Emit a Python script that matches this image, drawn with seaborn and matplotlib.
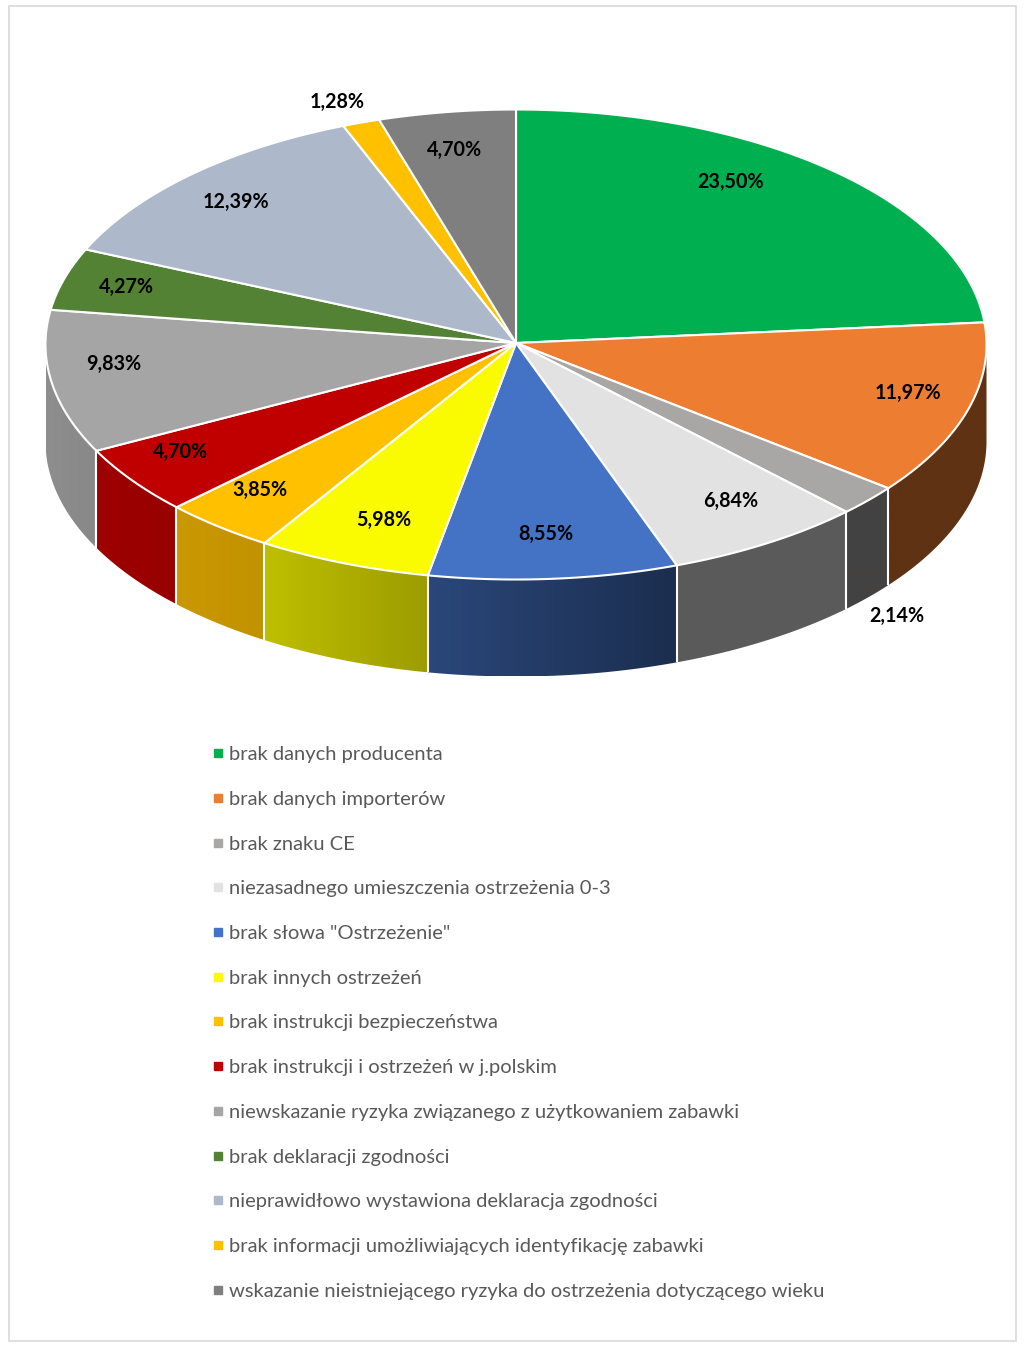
import numpy as np
import matplotlib
matplotlib.use("Agg")
import matplotlib.pyplot as plt
from matplotlib.lines import Line2D
from matplotlib.patches import Rectangle, Polygon
from matplotlib.colors import to_rgb
import seaborn as sns

categories = [
    "brak danych producenta",
    "brak danych importerów",
    "brak znaku CE",
    "niezasadnego umieszczenia ostrzeżenia 0-3",
    'brak słowa "Ostrzeżenie"',
    "brak innych ostrzeżeń",
    "brak instrukcji bezpieczeństwa",
    "brak instrukcji i ostrzeżeń w j.polskim",
    "niewskazanie ryzyka związanego z użytkowaniem zabawki",
    "brak deklaracji zgodności",
    "nieprawidłowo wystawiona deklaracja zgodności",
    "brak informacji umożliwiających identyfikację zabawki",
    "wskazanie nieistniejącego ryzyka do ostrzeżenia dotyczącego wieku",
]
values = [23.50, 11.97, 2.14, 6.84, 8.55, 5.98, 3.85, 4.70, 9.83, 4.27, 12.39, 1.28, 4.70]
colors = ["#00B050", "#ED7D31", "#A9A7A5", "#E2E2E2", "#4472C4", "#FBFB00", "#FFC000",
          "#C00000", "#A5A5A5", "#548235", "#ADB9CA", "#FFC000", "#7F7F7F"]
label_xy = [(731, 182), (908, 393), (897, 616), (731, 501), (546, 534), (384, 520), (260, 490),
            (181, 452), (114, 364), (126, 287), (236, 202), (337, 102), (455, 150)]

sns.set_theme(style="white")
plt.rcParams["font.family"] = ["Lato", "DejaVu Sans"]

cx, cy, rx, ry, depth = 516, 344.5, 470.5, 235, 97
palette = sns.color_palette(colors)

fig = plt.figure(figsize=(10.24, 13.5), dpi=100)
ax = fig.add_axes([0, 0, 1, 1])
ax.axis("off")
ax.add_patch(Rectangle((8.5, 5.5), 1007, 1335, fc="white", ec="#D9D9D9", lw=1.2, zorder=0))


def rim(t):
    return cx + rx * np.sin(t), cy - ry * np.cos(t)


def shade(x):
    return np.interp(x, [46, 100, 265, 430, 678, 1000], [0.86, 0.82, 0.76, 0.62, 0.40, 0.40])


edges = np.concatenate([[0], np.cumsum(values)]) / sum(values) * 2 * np.pi

# side wall (only the front half of the rim is visible), shaded left to right
for i, col in enumerate(palette):
    lo, hi = max(edges[i], np.pi / 2), min(edges[i + 1], 3 * np.pi / 2)
    if hi <= lo:
        continue
    ts = np.linspace(lo, hi, 200)
    xs, ys = rim(ts)
    outline = Polygon(np.c_[np.r_[xs, xs[::-1]], np.r_[ys, ys[::-1] + depth]], closed=True,
                      fc="none", ec="none", transform=ax.transData)
    ax.add_patch(outline)
    x0, x1 = xs.min(), xs.max()
    gx = np.linspace(x0, x1, 256)
    img = np.outer(shade(gx), np.array(to_rgb(col))).reshape(1, 256, 3)
    im = ax.imshow(img, extent=(x0, x1, ys.max() + depth, ys.min()), aspect="auto",
                   interpolation="bilinear", zorder=1)
    im.set_clip_path(outline)

ax.set_xlim(0, 1024)
ax.set_ylim(1350, 0)

# white seams on the wall
for t in edges:
    if np.pi / 2 < t < 3 * np.pi / 2:
        x, y = rim(t)
        ax.plot([x, x], [y, y + depth], color="white", lw=1.5, zorder=2, solid_capstyle="butt")

# top face
for i, col in enumerate(palette):
    ts = np.linspace(edges[i], edges[i + 1], 200)
    xs, ys = rim(ts)
    ax.fill(np.r_[cx, xs], np.r_[cy - 1.5, ys], facecolor=col, edgecolor="white", lw=1.5,
            joinstyle="round", zorder=3)

# value labels
for v, (x, y) in zip(values, label_xy):
    ax.text(x, y, f"{v:.2f}%".replace(".", ","), ha="center", va="center", fontsize=14.2,
            fontweight="bold", color="black", zorder=5)

handles = [Line2D([], [], ls="none", marker="s", ms=5.5, color=c) for c in palette]
fig.legend(handles, categories, loc="upper left", bbox_to_anchor=(208 / 1024, 1 - 746 / 1350),
           frameon=False, fontsize=14.48, labelcolor="#595959", labelspacing=1.375,
           handletextpad=0.05, handlelength=1.0, borderaxespad=0, borderpad=0)

fig.savefig("out.png", dpi=100)
